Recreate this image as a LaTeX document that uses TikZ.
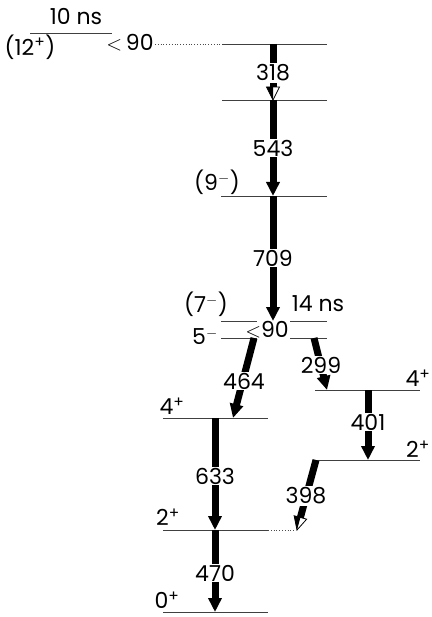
\documentclass[tikz,border=0pt]{standalone}
\usepackage{fontspec}
\setmainfont{Poppins}
\usetikzlibrary{arrows.meta,calc}
\newcommand{\spinp}[1]{#1\textsuperscript{+}}
\newcommand{\spinm}[1]{#1\ensuremath{^{-}}}
\newcommand{\lessthan}{\ensuremath{<}}
\begin{document}
\begin{tikzpicture}[x=1pt,y=-1pt,
  lvl/.style={black!75,line width=0.8pt},
  dots/.style={black!70,line width=0.8pt,dotted},
  gam/.style={line width=7pt,-{Triangle[length=14pt,width=13pt]}},
  shaft/.style={line width=7pt},
  lab/.style={fill=white,inner sep=1.2pt,font=\fontsize{22}{24}\selectfont},
  txt/.style={inner sep=0pt,font=\fontsize{22}{24}\selectfont}]
\useasboundingbox (0,0) rectangle (431,617);
% level coordinates
\coordinate (l12a) at (30,33);  \coordinate (l12b) at (112,33);
\coordinate (d1a) at (155,44);
\coordinate (l1a) at (222,44);  \coordinate (l1b) at (327,44);
\coordinate (l2a) at (222,100); \coordinate (l2b) at (327,100);
\coordinate (l9a) at (221,196); \coordinate (l9b) at (327,196);
\coordinate (l7a) at (221,321); \coordinate (l7b) at (257,321);
\coordinate (l7c) at (290,321); \coordinate (l7d) at (327,321);
\coordinate (l5a) at (221,338); \coordinate (l5b) at (257,338);
\coordinate (l5c) at (290,338); \coordinate (l5d) at (327,338);
\coordinate (l4a) at (163,418); \coordinate (l4b) at (268,418);
\coordinate (r4a) at (315,390); \coordinate (r4b) at (420,390);
\coordinate (r2a) at (315,460); \coordinate (r2b) at (420,460);
\coordinate (g2a) at (163,530); \coordinate (g2b) at (268,530);
\coordinate (g2d) at (296,530);
\coordinate (g0a) at (163,612); \coordinate (g0b) at (268,612);
% levels
\draw[lvl] (l12a) -- (l12b);
\draw[dots] (d1a) -- (l1a);
\draw[lvl] (l1a) -- (l1b);
\draw[lvl] (l2a) -- (l2b);
\draw[lvl] (l9a) -- (l9b);
\draw[lvl] (l7a) -- (l7b); \draw[lvl] (l7c) -- (l7d);
\draw[lvl] (l5a) -- (l5b); \draw[lvl] (l5c) -- (l5d);
\draw[lvl] (l4a) -- (l4b);
\draw[lvl] (r4a) -- (r4b);
\draw[lvl] (r2a) -- (r2b);
\draw[lvl] (g2a) -- (g2b); \draw[dots] (g2b) -- (g2d);
\draw[lvl] (g0a) -- (g0b);
% transition end points
\coordinate (t318s) at (273,44);  \coordinate (t318e) at (273,100);
\coordinate (t543s) at (273,100); \coordinate (t543e) at (273,196);
\coordinate (t709s) at (273,196); \coordinate (t709e) at (273,321);
\coordinate (t464s) at (254,338); \coordinate (t464e) at (233,418);
\coordinate (t299s) at (314,338); \coordinate (t299e) at (327,390);
\coordinate (t401s) at (368,390); \coordinate (t401e) at (368,460);
\coordinate (t398s) at (316,460); \coordinate (t398e) at (297,530);
\coordinate (t633s) at (215,418); \coordinate (t633e) at (215,530);
\coordinate (t470s) at (215,530); \coordinate (t470e) at (215,612);
% transitions with full heads
\draw[gam] (t543s) -- (t543e);
\draw[gam] (t709s) -- (t709e);
\draw[gam] (t464s) -- (t464e);
\draw[gam] (t299s) -- (t299e);
\draw[gam] (t401s) -- (t401e);
\draw[gam] (t633s) -- (t633e);
\draw[gam] (t470s) -- (t470e);
% transitions with half-open heads
\coordinate (h318b) at ($(t318e)!13pt!(t318s)$);
\coordinate (h318l) at ($(h318b)!6.5pt!90:(t318e)$);
\coordinate (h318r) at ($(h318b)!6.5pt!-90:(t318e)$);
\draw[shaft] (t318s) -- (h318b);
\fill[black] (h318b) -- (h318r) -- (t318e) -- cycle;
\draw[line width=0.8pt,line join=miter] (h318l) -- (h318r) -- (t318e) -- cycle;
\coordinate (h398b) at ($(t398e)!13pt!(t398s)$);
\coordinate (h398l) at ($(h398b)!6.5pt!90:(t398e)$);
\coordinate (h398r) at ($(h398b)!6.5pt!-90:(t398e)$);
\draw[shaft] (t398s) -- (h398b);
\fill[black] (h398b) -- (h398r) -- (t398e) -- cycle;
\draw[line width=0.8pt,line join=miter] (h398l) -- (h398r) -- (t398e) -- cycle;
% energy labels
\node[lab] (e318) at (273,73) {318};
\node[lab] (e543) at (273,148) {543};
\node[lab] (e709) at (273,258) {709};
\node[lab] (e464) at (244,381) {464};
\node[lab] (e299) at (321,365) {299};
\node[lab] (e401) at (368,422) {401};
\node[lab] (e398) at (306,496) {398};
\node[lab] (e633) at (215,476) {633};
\node[lab] (e470) at (215,573) {470};
\node[txt] (c90a) at (130,43) {\lessthan\,90};
\node[txt] (c90b) at (267,330) {\lessthan90};
% spins and lifetimes
\node[txt] (ns10) at (76,17) {10 ns};
\node[txt] (s12) at (30,47) {(\spinp{12})};
\node[txt] (s9) at (217,182) {(\spinm{9})};
\node[txt] (s7) at (206,304) {(\spinm{7})};
\node[txt] (ns14) at (318,304) {14 ns};
\node[txt] (s5) at (205,337) {\spinm{5}};
\node[txt] (s4l) at (172,406) {\spinp{4}};
\node[txt] (s4r) at (418,378) {\spinp{4}};
\node[txt] (s2r) at (418,449) {\spinp{2}};
\node[txt] (s2l) at (168,517) {\spinp{2}};
\node[txt] (s0) at (167,600) {\spinp{0}};
\end{tikzpicture}
\end{document}
